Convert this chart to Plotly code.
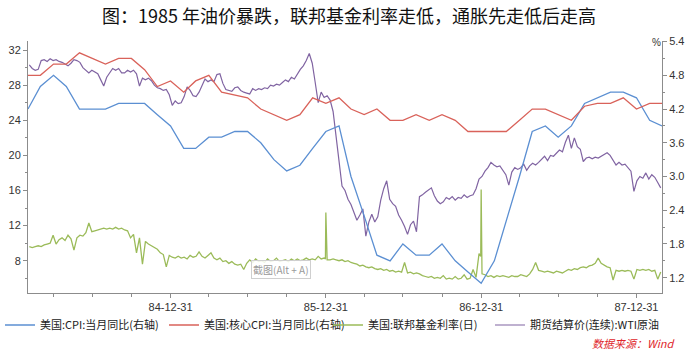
import pandas as pd
import plotly.graph_objects as go

# ---------------- data ----------------
month_dates = pd.date_range('1984-01-31', periods=50, freq=pd.offsets.MonthEnd())

cpi_yoy = [
    4.2, 4.6, 4.8, 4.6, 4.2, 4.2, 4.2, 4.3, 4.3, 4.3, 4.1, 3.9,
    3.5, 3.5, 3.7, 3.7, 3.8, 3.8, 3.6, 3.3, 3.1, 3.2, 3.5, 3.8,
    3.9, 3.0, 2.3, 1.6, 1.5, 1.8, 1.6, 1.6, 1.8, 1.5, 1.3, 1.1,
    1.5, 2.2, 3.0, 3.8, 3.9, 3.7, 3.9, 4.3, 4.4, 4.5, 4.5, 4.4,
    4.0, 3.9,
]

core_cpi_yoy = [
    4.8, 4.8, 5.0, 5.0, 5.2, 5.1, 5.0, 5.1, 5.1, 4.9, 4.6, 4.7,
    4.5, 4.7, 4.8, 4.5, 4.45, 4.4, 4.2, 4.1, 4.0, 4.1, 4.4, 4.3,
    4.4, 4.2, 4.1, 4.2, 4.0, 4.0, 4.1, 4.0, 4.1, 4.0, 3.8, 3.8,
    3.8, 3.8, 4.0, 4.2, 4.2, 4.1, 4.0, 4.25, 4.3, 4.3, 4.4, 4.2,
    4.3, 4.3,
]

week_dates = pd.date_range('1984-02-03', periods=213, freq='7D')

wti = [
    30.3, 29.9, 29.7, 29.8, 30.8, 30.9, 30.7, 31.0, 30.8, 30.9,
    30.7, 30.6, 30.4, 30.2, 30.5, 30.9, 30.8, 30.6, 30.0, 29.7,
    29.4, 29.7, 29.5, 29.3, 28.6, 27.9, 28.9, 29.4, 29.9, 29.7,
    29.9, 29.4, 29.4, 29.7, 29.5, 29.7, 29.3, 27.9, 28.8, 28.6,
    28.8, 28.5, 28.0, 27.7, 27.6, 27.4, 27.5, 26.9, 25.7, 26.2,
    25.9, 26.0, 26.7, 27.8, 27.4, 26.8, 26.7, 27.2, 28.0, 28.7,
    28.4, 28.6, 28.4, 29.2, 29.3, 28.2, 27.5, 27.4, 27.3, 27.7,
    27.8, 27.4, 27.2, 27.1, 27.0, 27.6, 27.4, 27.6, 27.5, 27.7,
    27.6, 28.0, 27.9, 28.1, 28.0, 28.3, 28.6, 28.4, 28.9, 28.7,
    29.3, 29.8, 30.2, 30.8, 31.6, 30.5, 28.3, 26.0, 27.2, 26.6,
    26.8, 26.3, 25.0, 22.1, 19.8, 16.5, 16.0, 15.0, 14.4, 13.5,
    12.6, 13.2, 13.9, 10.8, 12.4, 13.3, 12.4, 13.0, 14.9, 16.2,
    17.1, 15.0, 14.5, 14.2, 13.2, 12.6, 11.9, 11.0, 12.1, 12.5,
    11.3, 15.3, 15.5, 15.8, 16.1, 16.3, 15.4, 14.8, 14.5, 14.7,
    15.2, 15.0, 15.3, 14.9, 15.2, 15.1, 15.5, 15.2, 15.4, 15.5,
    16.2, 17.3, 17.6, 18.2, 18.6, 19.2, 18.9, 18.7, 18.8, 18.3,
    17.8, 16.6, 18.1, 18.6, 18.4, 18.6, 19.0, 18.3, 18.8, 19.1,
    18.9, 19.2, 19.5, 19.9, 19.4, 20.0, 19.9, 20.2, 20.6, 20.4,
    21.5, 22.3, 20.8, 22.0, 21.0, 20.7, 19.3, 19.7, 19.8, 19.6,
    19.8, 19.7, 19.9, 20.1, 20.3, 20.0, 19.5, 18.9, 19.2, 18.9,
    19.0, 18.6, 18.2, 15.9, 17.1, 17.6, 17.4, 18.0, 17.3, 17.8,
    17.5, 16.9, 16.3,
]

fed_funds = [
    9.6, 9.5, 9.6, 9.7, 9.6, 9.8, 9.9, 10.0, 10.9, 9.9,
    10.4, 10.6, 10.3, 10.9, 10.5, 9.2, 10.6, 10.9, 10.8, 11.2,
    12.3, 11.3, 11.4, 11.5, 11.6, 11.7, 11.6, 11.7, 11.6, 11.8,
    11.6, 11.7, 11.5, 11.4, 10.6, 11.0, 8.9, 10.6, 7.6, 10.2,
    9.9, 9.7, 9.5, 9.3, 8.9, 8.7, 7.3, 8.6, 8.4, 8.3,
    8.5, 8.3, 8.4, 8.2, 8.6, 8.4, 8.5, 9.0, 8.5, 8.3,
    8.6, 8.9, 8.3, 8.1, 8.3, 7.9, 8.0, 7.7, 7.9, 7.6,
    7.5, 7.6, 7.0, 7.7, 8.1, 7.8, 8.2, 7.9, 8.0, 7.8,
    8.2, 7.9, 8.0, 8.3, 7.9, 8.0, 8.1, 7.9, 8.2, 8.0,
    8.2, 8.0, 8.1, 8.3, 8.1, 8.2, 8.1, 8.5, 8.2, 8.3,
    8.1, 8.1, 8.2, 8.1, 8.0, 8.1, 7.9, 8.0, 7.8, 7.7,
    7.6, 7.4, 7.5, 7.3, 7.2, 7.3, 7.1, 7.0, 7.1, 6.9,
    7.0, 6.8, 6.9, 6.7, 6.8, 6.7, 7.8, 6.6, 6.7, 6.5,
    6.6, 6.5, 6.3, 6.2, 6.1, 6.2, 6.0, 6.1, 6.0, 6.3,
    5.9, 6.0, 5.9, 6.2, 5.9, 6.0, 6.4, 5.9, 6.0, 7.0,
    6.1, 8.8, 6.5, 6.4, 6.2, 6.3, 6.1, 6.3, 6.2, 6.3,
    6.2, 6.1, 6.3, 6.2, 6.2, 6.4, 6.3, 6.2, 6.5, 7.0,
    7.8, 6.9, 6.8, 6.7, 6.8, 6.7, 6.6, 6.8, 6.7, 6.6,
    6.8, 7.0, 6.9, 7.1, 7.0, 7.2, 7.3, 7.2, 7.4, 7.5,
    7.7, 8.3, 7.7, 7.5, 7.3, 7.2, 5.8, 6.9, 6.8, 6.9,
    6.8, 6.9, 6.8, 5.9, 7.0, 6.9, 7.0, 6.9, 7.0, 6.8,
    6.9, 5.9, 6.7,
]

# single-day year-end spikes of the daily fed funds series
fed_extra_dates = ['1985-12-30', '1985-12-31', '1986-12-30', '1986-12-31']
fed_extra_values = [8.2, 13.5, 8.5, 16.1]

year_ticks = ['1984-12-31', '1985-12-31', '1986-12-31', '1987-12-31']

series_names = [
    '美国:CPI:当月同比(右轴)',
    '美国:核心CPI:当月同比(右轴)',
    '美国:联邦基金利率(日)',
    '期货结算价(连续):WTI原油',
]
colors = ['#5B8FD2', '#D9625A', '#9BBB59', '#8064A2']

# ---------------- build ----------------
fed_df = pd.concat([
    pd.DataFrame({'d': week_dates, 'v': fed_funds}),
    pd.DataFrame({'d': pd.to_datetime(fed_extra_dates), 'v': fed_extra_values}),
]).sort_values('d')

quarter_ticks = pd.date_range('1984-03-31', '1988-02-29', freq=pd.offsets.QuarterEnd())

fig = go.Figure()
fig.add_trace(go.Scatter(x=month_dates, y=cpi_yoy, name=series_names[0], mode='lines',
                         line=dict(color=colors[0], width=1.3), yaxis='y2', legend='legend'))
fig.add_trace(go.Scatter(x=month_dates, y=core_cpi_yoy, name=series_names[1], mode='lines',
                         line=dict(color=colors[1], width=1.3), yaxis='y2', legend='legend2'))
fig.add_trace(go.Scatter(x=fed_df['d'], y=fed_df['v'], name=series_names[2], mode='lines',
                         line=dict(color=colors[2], width=1.3), yaxis='y', legend='legend3'))
fig.add_trace(go.Scatter(x=week_dates, y=wti, name=series_names[3], mode='lines',
                         line=dict(color=colors[3], width=1.2), yaxis='y', legend='legend4'))

axis_gray = '#8C8C8C'
tick_font = dict(family='Liberation Sans, Arial, sans-serif', size=11, color='#333333')


def legend_at(px):
    return dict(orientation='h', xref='container', x=px / 693, xanchor='left',
                yref='container', y=1 - 325 / 353, yanchor='middle',
                itemwidth=30, bgcolor='rgba(0,0,0,0)',
                font=dict(family='Noto Sans CJK SC', size=11, color='#222222'))


fig.update_layout(
    width=693, height=353,
    margin=dict(l=28, r=31, t=41, b=60, autoexpand=False),
    paper_bgcolor='white', plot_bgcolor='white',
    showlegend=True,
    title=dict(text='图：1985 年油价暴跌，联邦基金利率走低，通胀先走低后走高',
               xref='container', x=349 / 693, xanchor='center',
               yref='container', y=1 - 17 / 353, yanchor='middle',
               font=dict(family='Noto Sans CJK SC', size=18, color='#111111')),
    xaxis=dict(type='date', range=['1984-01-31', '1988-02-29'],
               tickmode='array', tickvals=year_ticks, tickformat='%y-%m-%d',
               ticks='outside', ticklen=4, tickcolor=axis_gray, tickfont=tick_font,
               showline=True, linecolor=axis_gray, linewidth=1,
               showgrid=False, zeroline=False,
               minor=dict(tickmode='array', tickvals=list(quarter_ticks), ticks='outside',
                          ticklen=3, tickcolor=axis_gray, showgrid=False)),
    yaxis=dict(range=[4.32, 33.03], tick0=0, dtick=4,
               ticks='outside', ticklen=4, tickcolor=axis_gray, tickfont=tick_font,
               showline=True, linecolor=axis_gray, linewidth=1,
               showgrid=False, zeroline=False,
               minor=dict(dtick=2, ticks='outside', ticklen=2, tickcolor=axis_gray, showgrid=False)),
    yaxis2=dict(range=[0.928, 5.41], tick0=0, dtick=0.6, tickformat='.1f',
                overlaying='y', side='right',
                ticks='outside', ticklen=4, tickcolor=axis_gray, tickfont=tick_font,
                showline=True, linecolor=axis_gray, linewidth=1,
                showgrid=False, zeroline=False,
                minor=dict(dtick=0.3, ticks='outside', ticklen=2, tickcolor=axis_gray, showgrid=False)),
    legend=legend_at(0),
    legend2=legend_at(164),
    legend3=legend_at(328),
    legend4=legend_at(490),
    annotations=[
        dict(text='%', xref='paper', yref='paper', x=(656 - 28) / 634, y=(293 - 42) / 252,
             xanchor='center', yanchor='middle', showarrow=False,
             font=dict(family='Liberation Sans, Arial', size=10, color='#333333')),
        dict(text='截图(Alt + A)', xref='paper', yref='paper', x=(281 - 28) / 634, y=(293 - 269) / 252,
             xanchor='center', yanchor='middle', showarrow=False,
             bordercolor='#CFCFCF', borderwidth=1, borderpad=1, bgcolor='rgba(255,255,255,0.85)',
             font=dict(family='Noto Sans CJK SC', size=10, color='#9A9A9A')),
        dict(text='<i>数据来源：Wind</i>', xref='paper', yref='paper', x=(676 - 28) / 634, y=(293 - 343) / 252,
             xanchor='right', yanchor='middle', showarrow=False,
             font=dict(family='Noto Sans CJK SC', size=11, color='#E0262B')),
    ],
)

fig.write_html('out.html')
